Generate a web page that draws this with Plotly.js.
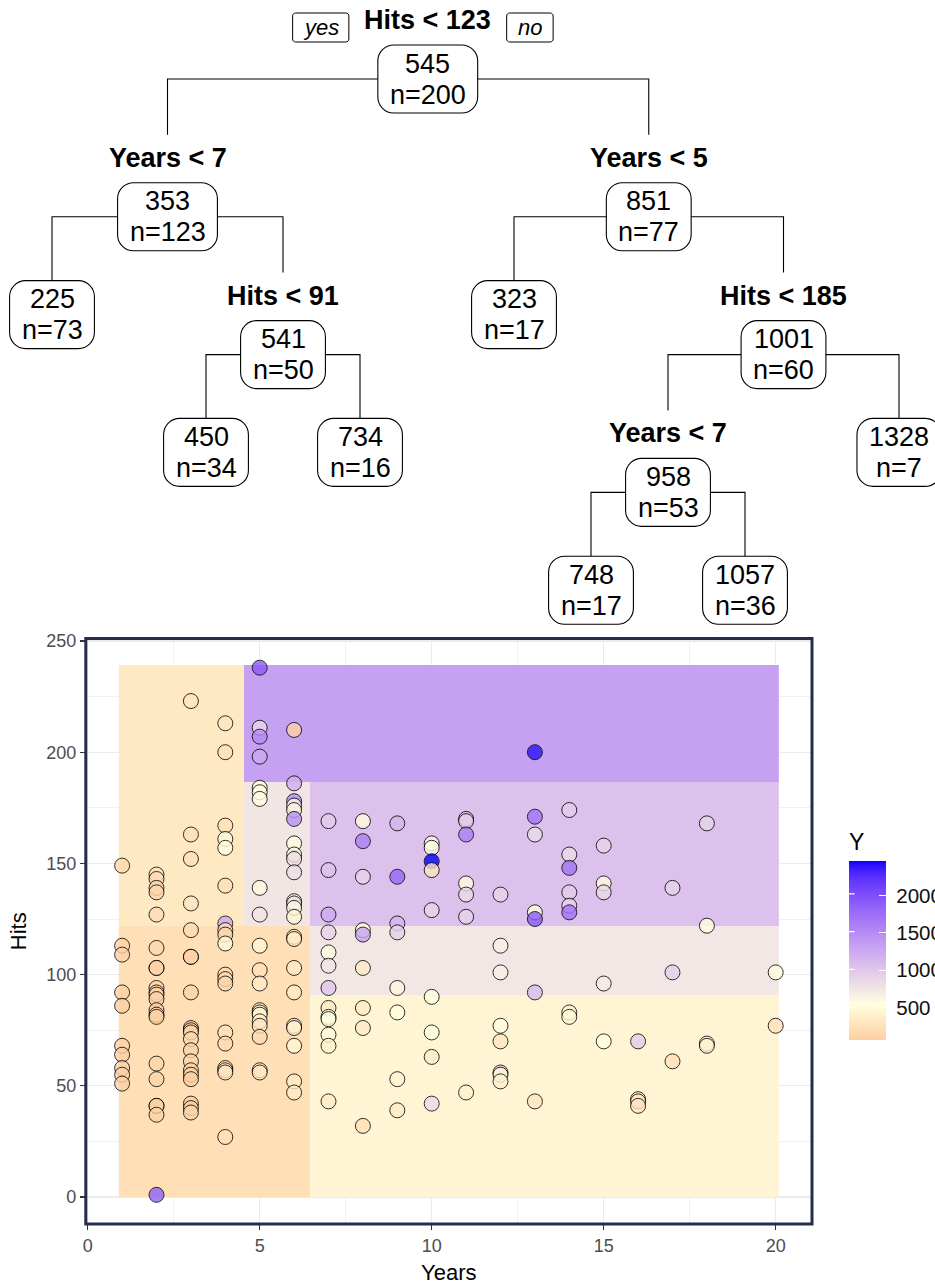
<!DOCTYPE html>
<html>
<head>
<meta charset="utf-8">
<script src="https://cdn.plot.ly/plotly-3.0.1.min.js"></script>
<style>
  html, body { margin: 0; padding: 0; background: #ffffff; }
  #chart { width: 935px; height: 1287px; }
</style>
</head>
<body>
<div id="chart"></div>
<script>
// ---------- Players: seasons in the majors, hits, salary (Y) ----------
const years = [
  1,1,1,1,1,1,1,1,1,1,
  2,2,2,2,2,2,2,2,2,2,2,2,2,2,2,2,2,2,2,2,2,
  3,3,3,3,3,3,3,3,3,3,3,3,3,3,3,3,3,3,3,3,
  4,4,4,4,4,4,4,4,4,4,4,4,4,4,4,4,4,4,4,
  5,5,5,5,5,5,5,5,5,5,5,5,5,5,5,5,5,5,5,5,
  6,6,6,6,6,6,6,6,6,6,6,6,6,6,6,6,6,6,6,6,6,6,6,
  7,7,7,7,7,7,7,7,7,7,7,7,7,
  8,8,8,8,8,8,8,8,8,
  9,9,9,9,9,9,9,9,
  10,10,10,10,10,10,10,10,10,
  11,11,11,11,11,11,11,
  12,12,12,12,12,12,12,12,
  13,13,13,13,13,13,13,
  14,14,14,14,14,14,14,14,
  15,15,15,15,15,
  16,16,16,16,
  17,17,17,
  18,18,18,18,
  20,20
];
const hits = [
  149,113,109,92,86,68,64,58,55,51,
  145,143,139,137,127,112,103,103,94,92,91,89,84,82,81,60,53,41,41,37,1,
  223,163,152,132,120,108,108,92,76,75,74,71,66,61,57,55,53,42,40,38,
  213,200,167,161,157,140,123,120,118,114,100,98,96,74,69,58,57,56,27,
  238,211,207,198,184,182,179,139,127,113,102,96,84,83,82,79,77,72,57,56,
  210,186,178,176,174,170,159,154,152,146,133,132,130,126,117,116,103,92,77,76,68,52,47,
  169,147,127,119,110,104,94,85,81,80,73,68,43,
  169,160,144,120,118,103,85,76,32,
  168,144,123,119,94,83,53,39,
  159,157,151,147,129,90,74,63,42,
  170,169,163,141,136,126,47,
  136,113,101,77,70,56,55,52,
  200,171,163,128,125,92,43,
  174,154,148,137,131,128,83,81,
  158,141,137,96,70,
  70,44,43,41,
  139,101,61,
  168,122,69,68,
  101,77
];
const salary = [
  180,100,110,85,67.5,90,80,110,100,90,
  250,200,150,140,200,160,120,100,140,100,110,90,120,110,100,140,130,90,80,100,1850,
  300,250,250,300,200,140,90,120,140,90,110,170,90,140,110,110,90,110,80,140,
  300,250,250,500,550,250,1250,200,150,500,200,150,150,250,200,400,200,300,250,
  1900,850,1500,1250,550,550,550,500,750,450,250,350,450,400,450,400,300,200,350,300,
  120,1200,1500,600,650,1450,550,600,800,800,600,800,600,450,400,350,350,350,400,400,450,350,350,
  950,1050,1250,900,550,750,1000,350,550,550,500,420,350,
  550,1600,900,550,1300,350,350,350,250,
  1150,1800,1150,900,600,550,450,350,
  550,550,2460,300,900,550,550,350,850,
  950,950,1600,550,850,900,420,
  900,650,650,550,300,1000,500,420,
  2400,1700,850,550,1900,1100,300,
  950,850,1700,950,900,1700,450,500,
  900,550,850,700,550,
  950,350,300,300,
  900,950,250,
  900,550,420,420,
  550,250
];

// ---------- Regression tree ----------
const nodeSplit = ['Hits < 123', 'Years < 7', '', 'Hits < 91', '', '', 'Years < 5', '', 'Hits < 185', 'Years < 7', '', '', ''];
const nodeVar   = ['Hits', 'Years', null, 'Hits', null, null, 'Years', null, 'Hits', 'Years', null, null, null];
const nodeCut   = [122.5, 6.5, null, 90.5, null, null, 4.5, null, 185.5, 6.5, null, null, null];
const nodeLeft  = [1, 2, -1, 4, -1, -1, 7, -1, 9, 10, -1, -1, -1];
const nodeRight = [6, 3, -1, 5, -1, -1, 8, -1, 12, 11, -1, -1, -1];
const nodeValue = [545, 353, 225, 541, 450, 734, 851, 323, 1001, 958, 748, 1057, 1328];
const nodeN     = [200, 123, 73, 50, 34, 16, 77, 17, 60, 53, 17, 36, 7];
// horizontal slot of every node in the drawn tree (leaf-spacing units)
const nodeSlot  = [2.44, 0.75, 0, 1.5, 1, 2, 3.875, 3, 4.75, 4, 3.5, 4.5, 5.5];

// colour-bar labels
const legendTicks = [500, 1000, 1500, 2000];

// ---------- Colour scale (Lab interpolation, low / mid / high) ----------
const lowColor = '#FDCFA2', midColor = '#FFFFE0', highColor = '#0000FF';
const cMin = Math.min(...salary), cMax = Math.max(...salary), cMid = nodeValue[0];

function hexToRgb(h) { return [1, 3, 5].map(i => parseInt(h.substr(i, 2), 16)); }
function toLin(c) { c /= 255; return c <= 0.04045 ? c / 12.92 : Math.pow((c + 0.055) / 1.055, 2.4); }
function toSrgb(c) { c = c <= 0.0031308 ? 12.92 * c : 1.055 * Math.pow(Math.max(c, 0), 1 / 2.4) - 0.055; return Math.round(Math.max(0, Math.min(1, c)) * 255); }
const WP = [0.95047, 1, 1.08883];
function rgbToLab(rgb) {
  const [r, g, b] = rgb.map(toLin);
  const X = 0.4124 * r + 0.3576 * g + 0.1805 * b;
  const Y = 0.2126 * r + 0.7152 * g + 0.0722 * b;
  const Z = 0.0193 * r + 0.1192 * g + 0.9505 * b;
  const f = t => t > 216 / 24389 ? Math.cbrt(t) : (24389 / 27 * t + 16) / 116;
  const fx = f(X / WP[0]), fy = f(Y / WP[1]), fz = f(Z / WP[2]);
  return [116 * fy - 16, 500 * (fx - fy), 200 * (fy - fz)];
}
function labToRgb(lab) {
  const [L, a, b] = lab;
  const fy = (L + 16) / 116, fx = fy + a / 500, fz = fy - b / 200;
  const inv = t => t * t * t > 216 / 24389 ? t * t * t : (116 * t - 16) / (24389 / 27);
  const X = WP[0] * inv(fx), Y = WP[1] * inv(fy), Z = WP[2] * inv(fz);
  const r = 3.2406 * X - 1.5372 * Y - 0.4986 * Z;
  const g = -0.9689 * X + 1.8758 * Y + 0.0415 * Z;
  const bl = 0.0557 * X - 0.2040 * Y + 1.0570 * Z;
  return [r, g, bl].map(toSrgb);
}
const labLow = rgbToLab(hexToRgb(lowColor));
const labMid = rgbToLab(hexToRgb(midColor));
const labHigh = rgbToLab(hexToRgb(highColor));
const mix = (p, q, t) => p.map((v, i) => v + (q[i] - v) * t);
function colourAt(v) {
  const lab = v <= cMid ? mix(labMid, labLow, (cMid - v) / (cMid - cMin))
                        : mix(labMid, labHigh, (v - cMid) / (cMax - cMid));
  const c = labToRgb(lab);
  return `rgb(${c[0]},${c[1]},${c[2]})`;
}
const colorscale = [];
const STOPS = 60;
for (let i = 0; i <= STOPS; i++) {
  const f = i / STOPS;
  colorscale.push([f, colourAt(cMin + f * (cMax - cMin))]);
}
colorscale.push([(cMid - cMin) / (cMax - cMin), colourAt(cMid)]);
colorscale.sort((a, b) => a[0] - b[0]);

// ---------- Tree prediction over a grid of the Years / Hits plane ----------
function predict(yr, h) {
  let i = 0;
  while (nodeLeft[i] >= 0) {
    const v = nodeVar[i] === 'Hits' ? h : yr;
    i = v < nodeCut[i] ? nodeLeft[i] : nodeRight[i];
  }
  return nodeValue[i];
}
const GRID = 100;
const seqLen = (a, b, n) => Array.from({ length: n }, (_, k) => a + (b - a) * k / (n - 1));
const gridYears = seqLen(Math.min(...years), Math.max(...years), GRID);
const gridHits = seqLen(Math.min(...hits), Math.max(...hits), GRID);
const gridZ = gridHits.map(h => gridYears.map(y => predict(y, h)));

const expand = (lo, hi) => { const d = (hi - lo) * 0.05; return [lo - d, hi + d]; };
const halfY = (gridYears[1] - gridYears[0]) / 2, halfH = (gridHits[1] - gridHits[0]) / 2;
const xRange = expand(gridYears[0] - halfY, gridYears[GRID - 1] + halfY);
const yRange = expand(gridHits[0] - halfH, gridHits[GRID - 1] + halfH);

// ---------- Page geometry ----------
const W = 935, H = 1287;
const FONT = '"Liberation Sans", Arial, Helvetica, sans-serif';
const panel = { left: 85.8, right: 812.0, top: 638.4, bottom: 1224.1 };
const cb = { left: 849, right: 886, top: 859, bottom: 1040, titleSpace: 29 };

// ---------- Tree layout (pixel space of the tree axes) ----------
const TREE_FONT = 27, YESNO_FONT = 22, BOX_H = 68, BOX_PAD = 12, BOX_R = 16;
const slotX = s => 52 + 154 * s;
const depthY = d => 20 + 137.8 * d;
const measure = document.createElement('canvas').getContext('2d');
function textWidth(str, size, weight, style) {
  measure.font = `${style || 'normal'} normal ${weight || 'normal'} ${size}px "Liberation Sans", Arial, sans-serif`;
  return measure.measureText(str).width;
}
const nNodes = nodeValue.length;
const depth = new Array(nNodes).fill(0);
for (let i = 0; i < nNodes; i++) {
  if (nodeLeft[i] >= 0) { depth[nodeLeft[i]] = depth[i] + 1; depth[nodeRight[i]] = depth[i] + 1; }
}
const isLeaf = i => nodeLeft[i] < 0;
const nodeX = nodeSlot.map(slotX);
const labelY = depth.map(depthY);
const boxCY = labelY.map((y, i) => isLeaf(i) ? y + 19 : y + 59);
const childTop = c => isLeaf(c) ? boxCY[c] - BOX_H / 2 : labelY[c] - 23;

const edgeX = [], edgeY = [];
for (let i = 0; i < nNodes; i++) {
  if (isLeaf(i)) continue;
  const L = nodeLeft[i], R = nodeRight[i], y = boxCY[i];
  edgeX.push(nodeX[L], nodeX[L], nodeX[R], nodeX[R], null);
  edgeY.push(childTop(L), y, y, childTop(R), null);
}

function roundRect(x0, y0, x1, y1, r) {
  const k = 0.5523 * r;
  return `M${x0 + r},${y0} L${x1 - r},${y0} C${x1 - r + k},${y0} ${x1},${y0 + r - k} ${x1},${y0 + r} ` +
         `L${x1},${y1 - r} C${x1},${y1 - r + k} ${x1 - r + k},${y1} ${x1 - r},${y1} ` +
         `L${x0 + r},${y1} C${x0 + r - k},${y1} ${x0},${y1 - r + k} ${x0},${y1 - r} ` +
         `L${x0},${y0 + r} C${x0},${y0 + r - k} ${x0 + r - k},${y0} ${x0 + r},${y0} Z`;
}
const esc = s => s.replace(/&/g, '&amp;').replace(/</g, '&lt;').replace(/>/g, '&gt;');

const shapes = [];
const annotations = [];
for (let i = 0; i < nNodes; i++) {
  const valTxt = String(nodeValue[i]), nTxt = 'n=' + nodeN[i];
  const w = Math.max(textWidth(valTxt, TREE_FONT), textWidth(nTxt, TREE_FONT)) + 2 * BOX_PAD;
  const cx = nodeX[i], cy = boxCY[i];
  shapes.push({
    type: 'path', xref: 'x2', yref: 'y2', layer: 'above',
    path: roundRect(cx - w / 2, cy - BOX_H / 2, cx + w / 2, cy + BOX_H / 2, BOX_R),
    fillcolor: '#ffffff', line: { color: '#000000', width: 1.1 }
  });
  annotations.push({ xref: 'x2', yref: 'y2', x: cx, y: cy - 15.5, text: valTxt, showarrow: false,
    xanchor: 'center', yanchor: 'middle', font: { family: FONT, size: TREE_FONT, color: '#000' } });
  annotations.push({ xref: 'x2', yref: 'y2', x: cx, y: cy + 15.5, text: nTxt, showarrow: false,
    xanchor: 'center', yanchor: 'middle', font: { family: FONT, size: TREE_FONT, color: '#000' } });
  if (!isLeaf(i)) {
    annotations.push({ xref: 'x2', yref: 'y2', x: cx, y: labelY[i], text: '<b>' + esc(nodeSplit[i]) + '</b>',
      showarrow: false, xanchor: 'center', yanchor: 'middle',
      font: { family: FONT, size: TREE_FONT, color: '#000' } });
  }
}
// yes / no tags beside the root split
{
  const half = textWidth(nodeSplit[0], TREE_FONT, 'bold') / 2;
  const tags = [
    { txt: 'yes', side: -1 },
    { txt: 'no', side: 1 }
  ];
  tags.forEach(t => {
    const w = textWidth(t.txt, YESNO_FONT, 'normal', 'italic') + 22;
    const inner = nodeX[0] + t.side * (half + 15.5);
    const x0 = t.side < 0 ? inner - w : inner, x1 = t.side < 0 ? inner : inner + w;
    const y0 = labelY[0] - 7, y1 = labelY[0] + 22;
    shapes.push({ type: 'path', xref: 'x2', yref: 'y2', layer: 'above',
      path: roundRect(x0, y0, x1, y1, 3), fillcolor: '#ffffff', line: { color: '#000000', width: 1 } });
    annotations.push({ xref: 'x2', yref: 'y2', x: (x0 + x1) / 2, y: (y0 + y1) / 2, text: '<i>' + t.txt + '</i>',
      showarrow: false, xanchor: 'center', yanchor: 'middle',
      font: { family: FONT, size: YESNO_FONT, color: '#000' } });
  });
}

// panel border
shapes.push({ type: 'rect', xref: 'x domain', yref: 'y domain', x0: 0, x1: 1, y0: 0, y1: 1,
  line: { color: '#262c4b', width: 3 }, fillcolor: 'rgba(0,0,0,0)', layer: 'above' });

// axis titles
annotations.push({ xref: 'paper', yref: 'paper', x: (panel.left + panel.right) / 2 / W, y: 1 - 1272 / H,
  text: 'Years', showarrow: false, xanchor: 'center', yanchor: 'middle',
  font: { family: FONT, size: 22, color: '#000' } });
annotations.push({ xref: 'paper', yref: 'paper', x: 18 / W, y: 1 - (panel.top + panel.bottom) / 2 / H,
  text: 'Hits', textangle: -90, showarrow: false, xanchor: 'center', yanchor: 'middle',
  font: { family: FONT, size: 22, color: '#000' } });

// short white marks on the left edge of the colour bar
legendTicks.forEach(v => {
  const yPx = cb.bottom - (v - cMin) / (cMax - cMin) * (cb.bottom - cb.top);
  annotations.push({ xref: 'paper', yref: 'paper', x: cb.left / W, y: 1 - yPx / H,
    text: '', showarrow: true, arrowhead: 0, arrowwidth: 1.2, arrowcolor: '#ffffff',
    ax: 7, ay: 0, standoff: 0, startstandoff: 0 });
});

// ---------- Traces ----------
const regions = {
  type: 'heatmap', x: gridYears, y: gridHits, z: gridZ,
  colorscale: colorscale, zmin: cMin, zmax: cMax, zsmooth: false,
  showscale: false, hoverinfo: 'skip', xaxis: 'x', yaxis: 'y'
};
const cbLen = (cb.bottom - cb.top) + cb.titleSpace;
const players = {
  type: 'scatter', mode: 'markers', x: years, y: hits, xaxis: 'x', yaxis: 'y',
  marker: {
    size: 15, color: salary, colorscale: colorscale, cmin: cMin, cmax: cMax,
    opacity: 0.8, line: { color: '#000000', width: 1 },
    showscale: true,
    colorbar: {
      x: cb.left / W, xanchor: 'left', xpad: 0,
      y: 1 - cb.bottom / H, yanchor: 'bottom', ypad: 0,
      len: cbLen, lenmode: 'pixels',
      thickness: cb.right - cb.left, thicknessmode: 'pixels',
      outlinewidth: 0, ticks: 'inside', ticklen: 7, tickcolor: '#ffffff', tickwidth: 1.2,
      tickvals: legendTicks, ticktext: legendTicks.map(v => '\u00a0' + v),
      tickfont: { family: FONT, size: 20.5, color: '#111111' },
      title: { text: 'Y', side: 'top', font: { family: FONT, size: 23, color: '#000' } }
    }
  },
  hoverinfo: 'skip'
};
const treeEdges = {
  type: 'scatter', mode: 'lines', x: edgeX, y: edgeY, xaxis: 'x2', yaxis: 'y2',
  line: { color: '#000000', width: 1.1 }, hoverinfo: 'skip', connectgaps: false
};

const axisCommon = {
  ticks: 'outside', ticklen: 5, tickwidth: 1.1, tickcolor: '#333333',
  tickfont: { family: FONT, size: 18, color: '#4d4d4d' },
  showgrid: true, gridcolor: '#ebebeb', gridwidth: 1.1,
  zeroline: false, showline: false, fixedrange: true
};
const layout = {
  width: W, height: H,
  margin: { l: 0, r: 0, t: 0, b: 0, pad: 0, autoexpand: false },
  paper_bgcolor: '#ffffff', plot_bgcolor: 'rgba(0,0,0,0)',
  showlegend: false, hovermode: false,
  font: { family: FONT, color: '#000' },
  xaxis: Object.assign({}, axisCommon, {
    domain: [panel.left / W, panel.right / W], range: xRange, anchor: 'y', automargin: false,
    tick0: 0, dtick: 5,
    minor: { tick0: 0, dtick: 2.5, showgrid: true, gridcolor: '#ebebeb', gridwidth: 0.7 }
  }),
  yaxis: Object.assign({}, axisCommon, {
    domain: [1 - panel.bottom / H, 1 - panel.top / H], range: yRange, anchor: 'x', automargin: false,
    tick0: 0, dtick: 50,
    minor: { tick0: 0, dtick: 25, showgrid: true, gridcolor: '#ebebeb', gridwidth: 0.7 }
  }),
  xaxis2: { domain: [0, 1], range: [0, W], visible: false, anchor: 'y2', fixedrange: true },
  yaxis2: { domain: [0, 1], range: [H, 0], visible: false, anchor: 'x2', fixedrange: true },
  shapes: shapes,
  annotations: annotations
};

Plotly.newPlot('chart', [regions, players, treeEdges], layout, { staticPlot: true, displayModeBar: false });
</script>
</body>
</html>
